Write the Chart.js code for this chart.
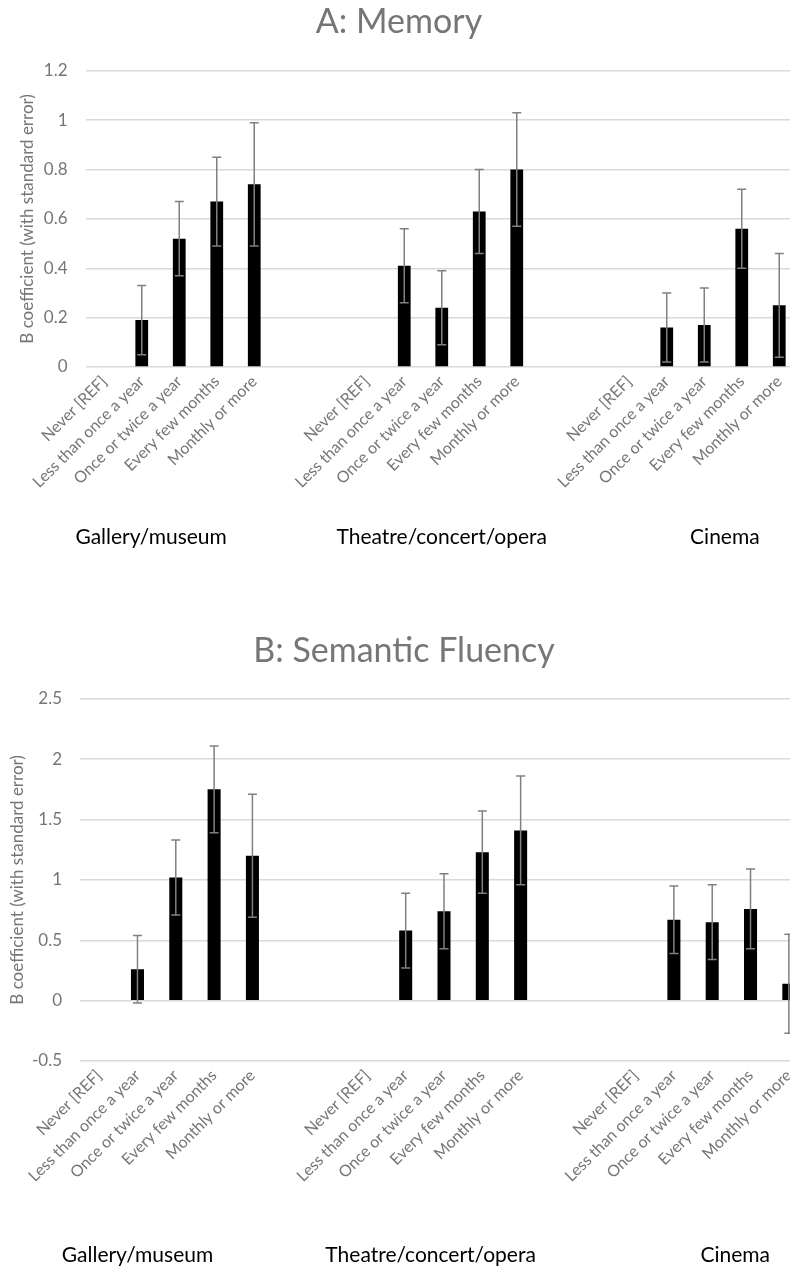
<!DOCTYPE html>
<html lang="en">
<head>
    <meta charset="UTF-8">
    <title>Arts engagement: Memory and Semantic Fluency</title>
    <script src="https://cdn.jsdelivr.net/npm/chart.js@4/dist/chart.umd.min.js"></script>
    <style>
        html, body { margin: 0; padding: 0; background: #fff; overflow: hidden; }
        canvas { display: block; }
    </style>
</head>
<body>
    <canvas id="chartA" width="798" height="600"></canvas>
    <canvas id="chartB" width="808" height="672"></canvas>
<script>
// frequency of attendance, repeated for each venue
const frequencies = ['Never [REF]', 'Less than once a year', 'Once or twice a year', 'Every few months', 'Monthly or more'];
const venues = ['Gallery/museum', 'Theatre/concert/opera', 'Cinema'];

// A: Memory (B coefficient, standard error) - gallery, theatre, cinema
const memoryCoef = [null, 0.19, 0.52, 0.67, 0.74,  null, 0.41, 0.24, 0.63, 0.80,  null, 0.16, 0.17, 0.56, 0.25];
const memorySE   = [null, 0.14, 0.15, 0.18, 0.25,  null, 0.15, 0.15, 0.17, 0.23,  null, 0.14, 0.15, 0.16, 0.21];

// B: Semantic fluency
const fluencyCoef = [null, 0.26, 1.02, 1.75, 1.20,  null, 0.58, 0.74, 1.23, 1.41,  null, 0.67, 0.65, 0.76, 0.14];
const fluencySE   = [null, 0.28, 0.31, 0.36, 0.51,  null, 0.31, 0.31, 0.34, 0.45,  null, 0.28, 0.31, 0.33, 0.41];

const memoryTicks = [0, 1.2, 0.2];
const fluencyTicks = [-0.5, 2.5, 0.5];

// two empty categories between venues, like the spreadsheet
function withGaps(arr, blank) {
    const out = [];
    venues.forEach((v, g) => {
        out.push(...arr.slice(g * 5, g * 5 + 5));
        if (g < venues.length - 1) out.push(blank, blank);
    });
    return out;
}
const labels = withGaps(venues.flatMap(() => frequencies), '');

const GRAY = '#767676';
const FONT = 'Lato, "Open Sans", sans-serif';
Chart.defaults.font.family = FONT;
Chart.defaults.color = GRAY;

const errorBars = {
    id: 'errorBars',
    afterDatasetsDraw(chart) {
        const ctx = chart.ctx;
        const y = chart.scales.y;
        const ds = chart.data.datasets[0];
        const meta = chart.getDatasetMeta(0);
        ctx.save();
        ctx.strokeStyle = '#808080';
        ctx.lineWidth = 1.5;
        meta.data.forEach((bar, i) => {
            const v = ds.data[i], e = ds.errors[i];
            if (v == null || e == null) return;
            const t = y.getPixelForValue(v + e), b = y.getPixelForValue(v - e);
            ctx.beginPath();
            ctx.moveTo(bar.x, t); ctx.lineTo(bar.x, b);
            ctx.moveTo(bar.x - 4.5, t); ctx.lineTo(bar.x + 4.5, t);
            ctx.moveTo(bar.x - 4.5, b); ctx.lineTo(bar.x + 4.5, b);
            ctx.stroke();
        });
        ctx.restore();
    }
};

const venueLabels = {
    id: 'venueLabels',
    afterDraw(chart, args, opts) {
        const ctx = chart.ctx;
        const x = chart.scales.x;
        ctx.save();
        ctx.fillStyle = '#000';
        ctx.font = '21px ' + FONT;
        ctx.textAlign = 'center';
        ctx.textBaseline = 'middle';
        venues.forEach((v, i) => {
            ctx.fillText(v, x.getPixelForValue(opts.at[i]), chart.chartArea.bottom + opts.below);
        });
        ctx.restore();
    }
};

function makeChart(id, title, coef, se, ticks, cfg) {
    return new Chart(document.getElementById(id), {
        type: 'bar',
        data: {
            labels: labels,
            datasets: [{
                data: withGaps(coef, null),
                errors: withGaps(se, null),
                backgroundColor: '#000',
                barPercentage: 0.34,
                categoryPercentage: 1
            }]
        },
        options: {
            responsive: false,
            animation: false,
            events: [],
            plugins: {
                legend: { display: false },
                tooltip: { enabled: false },
                title: {
                    display: true,
                    text: title,
                    color: GRAY,
                    font: { size: 34, weight: 'normal' },
                    padding: cfg.titlePad
                },
                venueLabels: { at: cfg.venueAt, below: cfg.venueBelow }
            },
            scales: {
                x: {
                    grid: { display: false, drawTicks: false },
                    border: { display: false },
                    ticks: { autoSkip: false, minRotation: 45, maxRotation: 45, padding: 5, font: { size: 16 }, color: GRAY },
                    afterFit: s => { s.height = cfg.xHeight; }
                },
                y: {
                    min: ticks[0], max: ticks[1],
                    grid: { color: '#d9d9d9', lineWidth: 1.5, drawTicks: false },
                    border: { display: false },
                    ticks: {
                        stepSize: ticks[2], padding: 18, font: { size: 17 }, color: GRAY,
                        callback: v => String(Math.round(v * 10) / 10)
                    },
                    title: {
                        display: true,
                        text: 'B coefficient (with standard error)',
                        color: GRAY,
                        font: { size: 17 },
                        padding: { top: cfg.yTitlePad, bottom: 0 }
                    },
                    afterFit: s => { s.width = cfg.yWidth; }
                }
            }
        },
        plugins: [errorBars, venueLabels]
    });
}

makeChart('chartA', 'A: Memory', memoryCoef, memorySE, memoryTicks, {
    titlePad: { top: 2, bottom: 28 },
    xHeight: 233,
    yWidth: 85.5,
    yTitlePad: 17,
    venueAt: [1.25, 9, 16.55],
    venueBelow: 170
});
makeChart('chartB', 'B: Semantic Fluency', fluencyCoef, fluencySE, fluencyTicks, {
    titlePad: { top: 31, bottom: 27 },
    xHeight: 211,
    yWidth: 80,
    yTitlePad: 7,
    venueAt: [1, 8.65, 16.6],
    venueBelow: 194
});
</script>
</body>
</html>
